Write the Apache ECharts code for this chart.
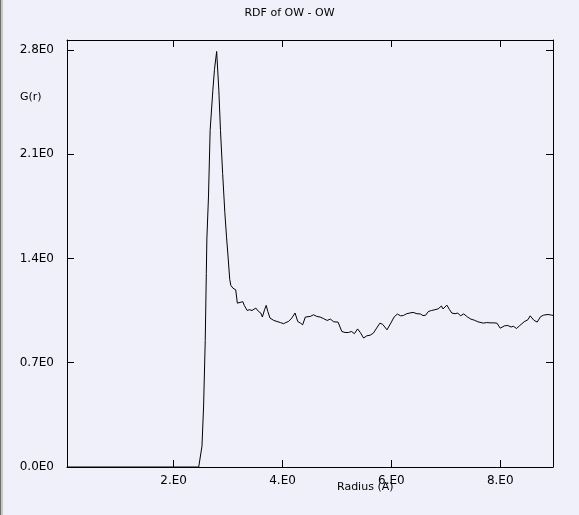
<!DOCTYPE html>
<html><head><meta charset="utf-8">
<script src="https://cdn.jsdelivr.net/npm/echarts@6/dist/echarts.min.js"></script>
<style>html,body{margin:0;padding:0;background:#f0f0fa}#c{width:579px;height:515px}</style>
</head><body><div id="c"></div>
<script>
const titleText = 'RDF of OW - OW';
const xName = 'Radius (A)';
const yName = 'G(r)';
const xTicks = [2, 4, 6, 8];
const yTicks = [0, 0.7, 1.4, 2.1, 2.8];
const radius = [0.05, 2.46, 2.52, 2.55, 2.58, 2.60, 2.61, 2.64, 2.67, 2.72, 2.75, 2.79, 2.83, 2.86, 2.90, 2.94, 2.97, 3.00, 3.03, 3.05,
  3.09, 3.14, 3.17, 3.22, 3.27, 3.30, 3.35, 3.39, 3.44, 3.47, 3.51, 3.56, 3.60, 3.63, 3.67, 3.70, 3.73, 3.77, 3.84, 3.90,
  3.96, 4.02, 4.06, 4.11, 4.17, 4.23, 4.28, 4.33, 4.37, 4.39, 4.42, 4.45, 4.51, 4.57, 4.63, 4.69, 4.75, 4.82, 4.88, 4.94,
  5.02, 5.09, 5.15, 5.21, 5.27, 5.32, 5.38, 5.43, 5.49, 5.55, 5.61, 5.67, 5.73, 5.79, 5.84, 5.92, 5.99, 6.05, 6.11, 6.17,
  6.22, 6.28, 6.34, 6.40, 6.47, 6.53, 6.58, 6.63, 6.68, 6.74, 6.80, 6.86, 6.92, 6.95, 7.02, 7.07, 7.11, 7.17, 7.22, 7.27,
  7.33, 7.40, 7.46, 7.53, 7.59, 7.69, 7.75, 7.81, 7.87, 7.94, 8.00, 8.08, 8.14, 8.20, 8.24, 8.30, 8.36, 8.44, 8.51, 8.55,
  8.62, 8.68, 8.74, 8.80, 8.88, 8.94, 8.97];
const gr = [0, 0, 0.14, 0.41, 0.85, 1.30, 1.53, 1.82, 2.26, 2.53, 2.67, 2.79, 2.53, 2.26, 1.97, 1.71, 1.55, 1.41, 1.26, 1.22,
  1.20, 1.19, 1.10, 1.105, 1.11, 1.083, 1.051, 1.056, 1.051, 1.060, 1.067, 1.044, 1.034, 1.007, 1.056, 1.085, 1.044, 1.000, 0.984, 0.977,
  0.970, 0.962, 0.970, 0.977, 1.000, 1.034, 0.977, 0.966, 0.955, 0.944, 1.007, 1.000, 1.011, 1.022, 1.011, 1.007, 0.997, 0.984, 0.993, 0.975,
  0.973, 0.910, 0.903, 0.903, 0.910, 0.895, 0.927, 0.903, 0.866, 0.881, 0.885, 0.899, 0.933, 0.966, 0.958, 0.921, 0.966, 1.007, 1.027, 1.015,
  1.017, 1.029, 1.034, 1.038, 1.029, 1.028, 1.017, 1.019, 1.044, 1.051, 1.056, 1.062, 1.081, 1.061, 1.087, 1.056, 1.034, 1.029, 1.034, 1.015,
  1.028, 1.007, 0.993, 0.985, 0.975, 0.966, 0.970, 0.968, 0.968, 0.966, 0.932, 0.948, 0.950, 0.940, 0.945, 0.930, 0.950, 0.975, 0.989, 1.015,
  0.985, 0.973, 1.009, 1.020, 1.024, 1.020, 1.018];

const chart = echarts.init(document.getElementById('c'), null, {renderer: 'canvas'});
const font = 'DejaVu Sans';
const lineCol = '#000000';
function xAxisDef(pos, showLabels) {
  return {
    type: 'value', position: pos, min: 0.04, max: 8.97,
    axisLine: {show: true, onZero: false, lineStyle: {color: lineCol, width: 1}},
    axisTick: {show: true, inside: true, length: 7, customValues: xTicks, lineStyle: {color: lineCol, width: 1}},
    axisLabel: {show: showLabels, customValues: xTicks, color: '#000', fontFamily: font, fontSize: 12, margin: 8,
      formatter: v => v.toFixed(0) + '.E0'},
    splitLine: {show: false}
  };
}
function yAxisDef(pos, showLabels) {
  return {
    type: 'value', position: pos, min: 0, max: 2.867,
    axisLine: {show: true, onZero: false, lineStyle: {color: lineCol, width: 1}},
    axisTick: {show: true, inside: true, length: 7, customValues: yTicks, lineStyle: {color: lineCol, width: 1}},
    axisLabel: {show: showLabels, customValues: yTicks, color: '#000', fontFamily: font, fontSize: 12, margin: 13,
      formatter: v => v.toFixed(1) + 'E0'},
    splitLine: {show: false}
  };
}
chart.setOption({
  backgroundColor: '#f0f0fa',
  animation: false,
  title: {text: titleText, left: 'center', top: 3,
    textStyle: {fontFamily: font, fontSize: 11, fontWeight: 'normal', color: '#000'}},
  grid: {left: 67, right: 26, top: 40, bottom: 48, containLabel: false},
  xAxis: [xAxisDef('bottom', true), xAxisDef('top', false)],
  yAxis: [yAxisDef('left', true), yAxisDef('right', false)],
  graphic: [
    {type: 'rect', left: 0, top: 0, shape: {width: 1, height: 515}, style: {fill: '#6e6e68'}},
    {type: 'rect', left: 1, top: 0, shape: {width: 2, height: 515}, style: {fill: '#c8c8c0'}},
    {type: 'text', left: 20, top: 92, style: {text: yName, fill: '#000', font: '11px "DejaVu Sans"'}},
    {type: 'text', left: 337, top: 482, style: {text: xName, fill: '#000', font: '11px "DejaVu Sans"'}}
  ],
  series: [{
    type: 'line', xAxisIndex: 0, yAxisIndex: 0, showSymbol: false, symbol: 'none',
    lineStyle: {color: '#000', width: 1}, smooth: false,
    data: radius.map((r, i) => [r, gr[i]])
  }]
});
</script>
</body></html>
